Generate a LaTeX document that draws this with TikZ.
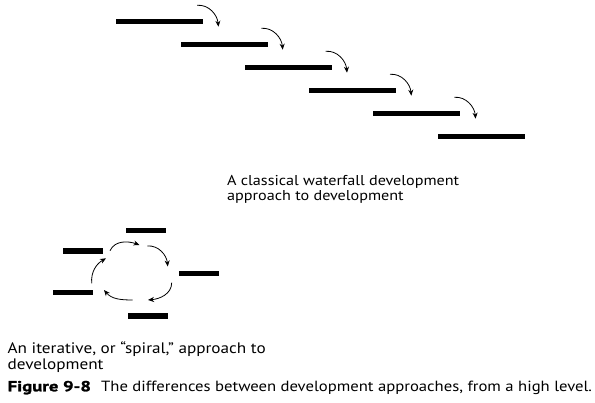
\documentclass[tikz,border=0pt]{standalone}
\usepackage{fontspec}
\setmainfont{PT Sans}[FakeStretch=1.13]
\newfontfamily\figfont{PT Sans}[FakeStretch=1.28, FakeBold=1.6]
\usetikzlibrary{arrows.meta,calc}
\tikzset{
  wbar/.style={fill=black, inner sep=0pt, minimum width=87pt, minimum height=5.3pt},
  sbar/.style={fill=black, inner sep=0pt, minimum width=40pt, minimum height=5.3pt},
  flow/.style={line width=0.8pt, -{Stealth[length=6pt,width=5pt]}},
  lbl/.style={anchor=base west, inner sep=0pt, font=\fontsize{14.3}{14.8}\selectfont, align=left},
}
\begin{document}
\begin{tikzpicture}[x=1pt,y=-1pt]
\useasboundingbox (0,0) rectangle (595,403);
% waterfall
\foreach \i in {0,...,5}{
  \node[wbar] (w\i) at ({159.7+64.3*\i},{21.7+23*\i}) {};
}
\foreach \i in {0,...,4}{
  \draw[flow] ($(w\i.east)+(-6.3,-16.4)$) to[out=5,in=95] ($(w\i.east)+(15,5)$);
}
% spiral
\node[sbar] (s1) at (145.5,230.8) {};
\node[sbar] (s2) at (199.3,273.7) {};
\node[sbar] (s3) at (147.5,316) {};
\node[sbar] (s4) at (72.7,292.7) {};
\node[sbar] (s5) at (83.3,251) {};
\coordinate (a1s) at (110,250.7);  \coordinate (a1e) at (139.5,245);
\coordinate (a2s) at (147.3,246);  \coordinate (a2e) at (167.7,266.5);
\coordinate (a3s) at (171.7,282.7);\coordinate (a3e) at (148,300);
\coordinate (a4s) at (132.7,300);  \coordinate (a4e) at (104,290);
\coordinate (a5s) at (91.7,283.3); \coordinate (a5e) at (106,258.3);
\draw[flow] (a1s) to[out=65,in=160] (a1e);
\draw[flow] (a2s) to[out=5,in=95] (a2e);
\draw[flow] (a3s) to[out=-90,in=5] (a3e);
\draw[flow] (a4s) to[out=180,in=-50] (a4e);
\draw[flow] (a5s) to[out=95,in=210] (a5e);
% texts (base anchor = baseline of last line)
\node[lbl] (wt) at (227,200.8) {A classical waterfall development\\approach to development};
\node[lbl, font=\fontsize{15.2}{15.4}\selectfont] (st) at (7.5,369.3) {An iterative, or “spiral,” approach to\\development};
\node[lbl, font=\fontsize{14.6}{16}\selectfont\figfont\bfseries] (fig) at (7.5,391.3) {Figure 9-8};
\node[lbl, font=\fontsize{14.75}{16}\selectfont] (cap) at (101,391.3) {The differences between development approaches, from a high level.};
\end{tikzpicture}
\end{document}
